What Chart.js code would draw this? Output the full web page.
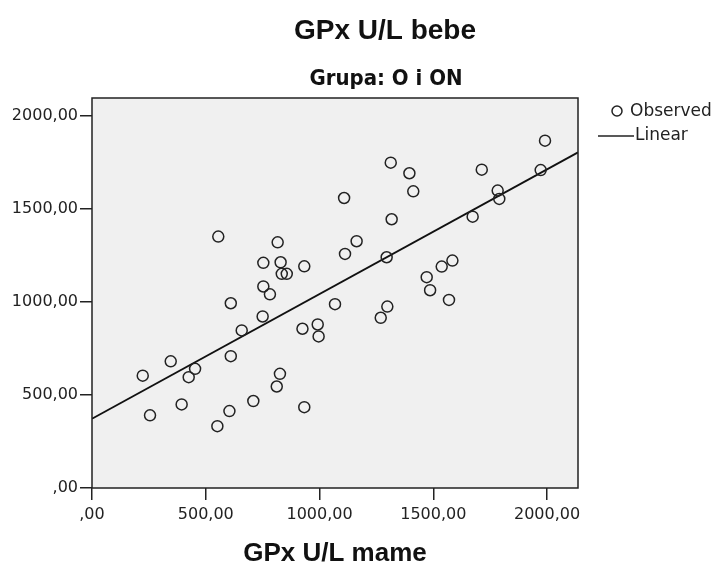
<!DOCTYPE html>
<html>
<head>
<meta charset="utf-8">
<script src="https://cdn.jsdelivr.net/npm/chart.js@4/dist/chart.umd.min.js"></script>
<style>
  body { margin: 0; background: #fff; }
  canvas { display: block; }
</style>
</head>
<body>
<canvas id="myChart" width="727" height="569"></canvas>
<script>
// observed values (GPx mame, GPx bebe)
var momValues = [555, 816, 753, 829, 834, 856, 933, 753, 782, 1991,
                 1713, 1313, 1395, 1412, 1972, 1783, 1790, 1108, 1317, 1673,
                 1163, 1112, 1295, 1471, 1486, 1537, 1584, 610, 1068, 750,
                 658, 925, 992, 996, 346, 610, 223, 425, 453, 826,
                 812, 394, 255, 604, 709, 551, 933, 1298, 1269, 1569];
var babyValues = [1350, 1319, 1209, 1212, 1150, 1150, 1190, 1082, 1040, 1865,
                  1709, 1747, 1690, 1593, 1707, 1597, 1552, 1557, 1443, 1457,
                  1325, 1257, 1239, 1132, 1062, 1189, 1221, 992, 987, 921,
                  846, 855, 878, 814, 680, 708, 603, 595, 640, 613,
                  545, 449, 390, 413, 467, 332, 434, 974, 914, 1010];

// linear fit, ends of the line
var fitX = [0, 2136];
var fitY = [372, 1802];

var tickValues = [0, 500, 1000, 1500, 2000];
var tickLabels = [',00', '500,00', '1000,00', '1500,00', '2000,00'];

var points = momValues.map(function (v, i) { return { x: v, y: babyValues[i] }; });
var fitPoints = fitX.map(function (v, i) { return { x: v, y: fitY[i] }; });

function tickLabel(value) {
  var i = tickValues.indexOf(value);
  return i >= 0 ? tickLabels[i] : '';
}
function setTicks(scale) {
  scale.ticks = tickValues.map(function (v) { return { value: v }; });
}

var spssLook = {
  id: 'spssLook',
  beforeDraw: function (chart) {
    var a = chart.chartArea, c = chart.ctx;
    c.save();
    c.fillStyle = '#f0f0f0';
    c.fillRect(a.left, a.top, a.right - a.left, a.bottom - a.top);
    c.restore();
  },
  afterDraw: function (chart) {
    var a = chart.chartArea, c = chart.ctx;
    c.save();
    c.strokeStyle = '#222';
    c.lineWidth = 1.5;
    c.strokeRect(a.left, a.top, a.right - a.left, a.bottom - a.top);

    c.fillStyle = '#111';
    c.textAlign = 'center';
    c.textBaseline = 'middle';
    c.font = 'bold 28px "Liberation Sans", Arial, sans-serif';
    c.fillText('GPx U/L bebe', 385, 31);
    c.font = 'bold 22px "DejaVu Sans Condensed", "Liberation Sans Narrow", sans-serif';
    c.fillText('Grupa: O i ON', 386, 79);

    // legend
    c.textAlign = 'left';
    c.font = '17px "DejaVu Sans", sans-serif';
    c.strokeStyle = '#222';
    c.beginPath();
    c.arc(617, 111, 5, 0, Math.PI * 2);
    c.lineWidth = 1.5;
    c.stroke();
    c.fillStyle = '#222';
    c.fillText('Observed', 630, 112);
    c.beginPath();
    c.moveTo(598, 136);
    c.lineTo(634, 136);
    c.lineWidth = 1.5;
    c.stroke();
    c.fillText('Linear', 635, 136);
    c.restore();
  }
};

var ctx = document.getElementById('myChart').getContext('2d');
var chart = new Chart(ctx, {
  type: 'scatter',
  data: {
    datasets: [{
      label: 'Observed',
      data: points,
      pointStyle: 'circle',
      pointRadius: 5.5,
      pointHoverRadius: 5.5,
      borderWidth: 1.5,
      borderColor: '#222',
      backgroundColor: 'rgba(0,0,0,0)'
    }, {
      label: 'Linear',
      type: 'line',
      data: fitPoints,
      borderColor: '#111',
      borderWidth: 1.8,
      pointRadius: 0,
      fill: false
    }]
  },
  plugins: [spssLook],
  options: {
    responsive: false,
    animation: false,
    layout: { padding: { top: 98, right: 149, left: 0, bottom: 0 } },
    plugins: {
      legend: { display: false },
      tooltip: { enabled: false }
    },
    scales: {
      x: {
        type: 'linear',
        min: 0,
        max: 2136,
        afterBuildTicks: setTicks,
        afterFit: function (s) { s.height = 81; },
        grid: { drawOnChartArea: false, drawTicks: true, tickLength: 12, color: '#222', lineWidth: 1.5 },
        border: { display: false },
        ticks: {
          callback: tickLabel,
          color: '#222',
          padding: 5,
          maxRotation: 0,
          font: { family: '"DejaVu Sans", sans-serif', size: 16 }
        },
        title: {
          display: true,
          text: 'GPx U/L mame',
          color: '#111',
          padding: { top: 19, bottom: 0 },
          font: { family: '"Liberation Sans", Arial, sans-serif', size: 26, weight: 'bold' }
        }
      },
      y: {
        type: 'linear',
        min: 0,
        max: 2094,
        afterBuildTicks: setTicks,
        afterFit: function (s) { s.width = 92; },
        grid: { drawOnChartArea: false, drawTicks: true, tickLength: 12, color: '#222', lineWidth: 1.5 },
        border: { display: false },
        ticks: {
          callback: tickLabel,
          color: '#222',
          padding: 2,
          font: { family: '"DejaVu Sans", sans-serif', size: 16 }
        }
      }
    }
  }
});
</script>
</body>
</html>
